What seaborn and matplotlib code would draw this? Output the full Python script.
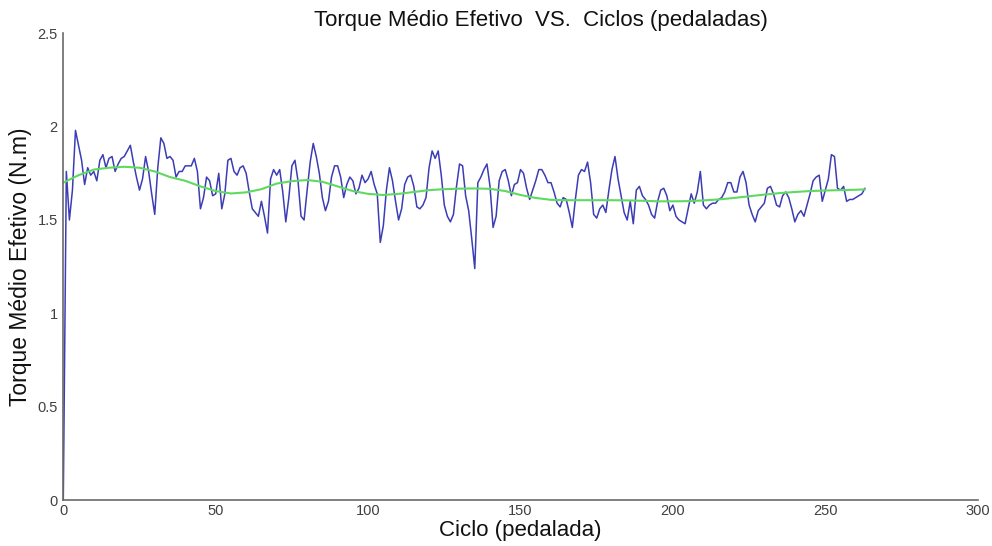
import matplotlib
matplotlib.use("Agg")
import matplotlib.pyplot as plt
import numpy as np
import pandas as pd
import seaborn as sns

# ---- data ----
cycles = list(range(0, 264))
torque = [
    0.00, 1.76, 1.50, 1.66, 1.98, 1.90, 1.82, 1.69, 1.78, 1.74,
    1.76, 1.71, 1.82, 1.85, 1.78, 1.83, 1.84, 1.76, 1.80, 1.83,
    1.84, 1.87, 1.90, 1.81, 1.73, 1.66, 1.72, 1.84, 1.76, 1.64,
    1.53, 1.78, 1.94, 1.91, 1.83, 1.84, 1.82, 1.73, 1.76, 1.76,
    1.79, 1.79, 1.79, 1.83, 1.76, 1.56, 1.62, 1.73, 1.71, 1.63,
    1.64, 1.75, 1.56, 1.64, 1.82, 1.83, 1.76, 1.74, 1.78, 1.79,
    1.75, 1.65, 1.56, 1.54, 1.52, 1.60, 1.52, 1.43, 1.72, 1.77,
    1.74, 1.77, 1.65, 1.49, 1.62, 1.79, 1.82, 1.71, 1.52, 1.50,
    1.66, 1.81, 1.91, 1.84, 1.75, 1.62, 1.55, 1.60, 1.73, 1.79,
    1.79, 1.73, 1.62, 1.69, 1.73, 1.71, 1.64, 1.67, 1.74, 1.70,
    1.72, 1.76, 1.69, 1.64, 1.38, 1.47, 1.66, 1.78, 1.71, 1.60,
    1.50, 1.56, 1.69, 1.73, 1.74, 1.68, 1.57, 1.56, 1.58, 1.62,
    1.78, 1.87, 1.83, 1.87, 1.74, 1.58, 1.52, 1.49, 1.53, 1.68,
    1.80, 1.79, 1.63, 1.55, 1.40, 1.24, 1.70, 1.73, 1.77, 1.80,
    1.68, 1.46, 1.52, 1.71, 1.76, 1.77, 1.71, 1.63, 1.69, 1.70,
    1.77, 1.75, 1.67, 1.61, 1.66, 1.71, 1.77, 1.77, 1.74, 1.70,
    1.70, 1.65, 1.59, 1.57, 1.62, 1.61, 1.54, 1.46, 1.61, 1.74,
    1.77, 1.76, 1.81, 1.70, 1.53, 1.51, 1.56, 1.58, 1.54, 1.66,
    1.77, 1.84, 1.72, 1.63, 1.54, 1.50, 1.60, 1.48, 1.66, 1.68,
    1.63, 1.61, 1.58, 1.53, 1.51, 1.60, 1.66, 1.67, 1.63, 1.55,
    1.58, 1.52, 1.50, 1.49, 1.48, 1.56, 1.64, 1.59, 1.65, 1.76,
    1.58, 1.56, 1.58, 1.59, 1.59, 1.61, 1.62, 1.65, 1.70, 1.70,
    1.65, 1.65, 1.73, 1.76, 1.70, 1.58, 1.53, 1.49, 1.55, 1.57,
    1.59, 1.67, 1.68, 1.64, 1.58, 1.57, 1.63, 1.65, 1.62, 1.56,
    1.49, 1.53, 1.55, 1.52, 1.58, 1.64, 1.71, 1.73, 1.74, 1.60,
    1.66, 1.72, 1.85, 1.84, 1.67, 1.66, 1.68, 1.60, 1.61, 1.61,
    1.62, 1.63, 1.64, 1.67,
]

trend_cycles = [0, 5, 10, 15, 20, 25, 30, 35, 40, 45, 50, 55, 60, 65, 70,
                75, 80, 85, 90, 95, 100, 105, 110, 115, 120, 125, 130, 135,
                140, 145, 150, 155, 160, 165, 170, 175, 180, 185, 190, 195,
                200, 205, 210, 215, 220, 225, 230, 235, 240, 245, 250, 255,
                260, 263]
trend_torque = [1.700, 1.740, 1.770, 1.780, 1.785, 1.780, 1.760, 1.730, 1.710,
                1.680, 1.655, 1.642, 1.648, 1.665, 1.695, 1.708, 1.714, 1.705,
                1.680, 1.655, 1.640, 1.634, 1.640, 1.650, 1.660, 1.665, 1.668,
                1.669, 1.667, 1.655, 1.634, 1.618, 1.608, 1.606, 1.606, 1.606,
                1.606, 1.605, 1.603, 1.600, 1.600, 1.601, 1.605, 1.610, 1.618,
                1.627, 1.636, 1.644, 1.650, 1.655, 1.658, 1.660, 1.662, 1.664]

x_ticks = [0, 50, 100, 150, 200, 250, 300]
y_ticks = [0, 0.5, 1, 1.5, 2, 2.5]
x_tick_labels = ["0", "50", "100", "150", "200", "250", "300"]
y_tick_labels = ["0", "0.5", "1", "1.5", "2", "2.5"]

title = "Torque Médio Efetivo  VS.  Ciclos (pedaladas)"
xlabel = "Ciclo (pedalada)"
ylabel = "Torque Médio Efetivo (N.m)"

# ---- plotting ----
sns.set_style("white")
plt.rcParams["font.family"] = ["Liberation Sans", "DejaVu Sans"]

fig = plt.figure(figsize=(9.92, 5.46), dpi=100)
ax = fig.add_axes([0.0638, 0.0842, 0.9218, 0.8548])

raw = pd.DataFrame({"cycle": cycles, "torque": torque})
trend = pd.DataFrame({"cycle": trend_cycles, "torque": trend_torque})

sns.lineplot(data=raw, x="cycle", y="torque", ax=ax, color="#3c3cb6",
             linewidth=1.1, sort=False, estimator=None)
sns.lineplot(data=trend, x="cycle", y="torque", ax=ax, color="#5fd95f",
             linewidth=1.5, sort=False, estimator=None)

ax.set_xlim(0, 300)
ax.set_ylim(0, 2.5)
ax.set_xticks(x_ticks)
ax.set_xticklabels(x_tick_labels)
ax.set_yticks(y_ticks)
ax.set_yticklabels(y_tick_labels)

for side in ["top", "right"]:
    ax.spines[side].set_visible(False)
for side in ["left", "bottom"]:
    ax.spines[side].set_color("#6a6a6a")
    ax.spines[side].set_linewidth(1.2)

ax.tick_params(direction="in", length=5, width=1, colors="#6a6a6a",
               labelcolor="#404040", labelsize=10.5, pad=3)
ax.tick_params(axis="y", pad=4)

ax.set_xlabel(xlabel, fontsize=16, color="#111111", labelpad=1)
ax.set_ylabel(ylabel, fontsize=16.5, color="#111111", labelpad=4)
ax.set_title(title, fontsize=16, color="#111111", x=0.522, pad=5)

fig.savefig("out.png", dpi=100, facecolor="white")
